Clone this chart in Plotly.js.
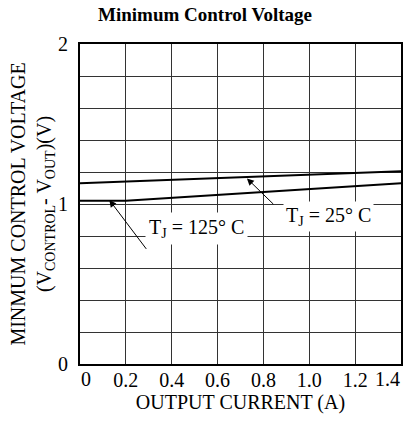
<!DOCTYPE html>
<html><head><meta charset="utf-8">
<script src="https://cdn.plot.ly/plotly-3.0.1.min.js"></script>
<style>body{margin:0;background:#fff}#c{width:410px;height:424px}</style>
</head><body><div id="c"></div>
<script>
var current25 = [0, 1.4];
var voltage25 = [1.13, 1.205];
var current125 = [0, 0.2, 1.4];
var voltage125 = [1.02, 1.02, 1.13];
var xTicks = [0, 0.2, 0.4, 0.6, 0.8, 1.0, 1.2, 1.4];
var xTickText = ['0', '0.2', '0.4', '0.6', '0.8', '1.0', '1.2', '1.4'];
var yTicks = [0, 1, 2];
var yTickText = ['0', '1', '2'];

var fam = 'Liberation Serif, Times New Roman, serif';
var font = {family: fam, color: '#000', size: 20};
var traces = [
  {x: current25, y: voltage25, mode: 'lines', line: {color: '#000', width: 2}, hoverinfo: 'none'},
  {x: current125, y: voltage125, mode: 'lines', line: {color: '#000', width: 2}, hoverinfo: 'none'}
];
// inner tick labels on the axis; the two end labels are anchored inward at their tick values
var innerVals = xTicks.slice(1, -1);
var innerText = xTickText.slice(1, -1);
var annotations = [
  {x: 0.128, y: 1.025, xref: 'x', yref: 'y', ax: 0.294, ay: 0.71, axref: 'x', ayref: 'y', text: '', showarrow: true, arrowhead: 2, arrowsize: 1.4, arrowwidth: 1, arrowcolor: '#000'},
  {x: 0.728, y: 1.16, xref: 'x', yref: 'y', ax: 0.85, ay: 0.99, axref: 'x', ayref: 'y', text: '', showarrow: true, arrowhead: 2, arrowsize: 1.4, arrowwidth: 1, arrowcolor: '#000'},
  {x: 0.507, y: 0.85, xref: 'x', yref: 'y', text: 'T<sub>J</sub> = 125° C', showarrow: false, bgcolor: '#fff', borderpad: 3, font: font},
  {x: 1.082, y: 0.92, xref: 'x', yref: 'y', text: 'T<sub>J</sub> = 25° C', showarrow: false, bgcolor: '#fff', borderpad: 2, font: font},
  {x: xTicks[0], y: 0, xref: 'x', yref: 'paper', yanchor: 'top', xanchor: 'left', yshift: -3, text: xTickText[0], showarrow: false, font: font, borderpad: 0},
  {x: xTicks[xTicks.length - 1], y: 0, xref: 'x', yref: 'paper', yanchor: 'top', xanchor: 'right', yshift: -3, text: xTickText[xTickText.length - 1], showarrow: false, font: font, borderpad: 0}
];
var layout = {
  width: 410, height: 424,
  margin: {l: 80, r: 9, t: 44, b: 60},
  showlegend: false,
  paper_bgcolor: '#fff', plot_bgcolor: '#fff',
  font: font,
  title: {text: '<b>Minimum Control Voltage</b>', x: 0.5, xref: 'container', xanchor: 'center', y: 0.965, yref: 'container', yanchor: 'middle', font: {family: fam, size: 19, color: '#000'}},
  xaxis: {range: [0, 1.4], tickvals: innerVals, ticktext: innerText, showgrid: true, gridcolor: '#333', gridwidth: 1,
    showline: true, linecolor: '#000', linewidth: 2, mirror: true, ticks: '', zeroline: false, ticklabelstandoff: -3,
    automargin: false, tickfont: font,
    title: {text: 'OUTPUT CURRENT (A)', font: font, standoff: 0}},
  yaxis: {range: [0, 2], tickvals: yTicks, ticktext: yTickText, showgrid: true, gridcolor: '#333', gridwidth: 1,
    minor: {dtick: 0.2, showgrid: true, gridcolor: '#333', gridwidth: 1, ticks: ''},
    showline: true, linecolor: '#000', linewidth: 2, mirror: true, ticks: '', zeroline: false, ticklabelstandoff: 6,
    automargin: false, tickfont: font,
    title: {text: 'MINMUM CONTROL VOLTAGE<br>(V<sub>CONTROL</sub>- V<sub>OUT</sub>)(V)', font: font, standoff: 0}},
  annotations: annotations
};
Plotly.newPlot('c', traces, layout, {staticPlot: true});
</script></body></html>
